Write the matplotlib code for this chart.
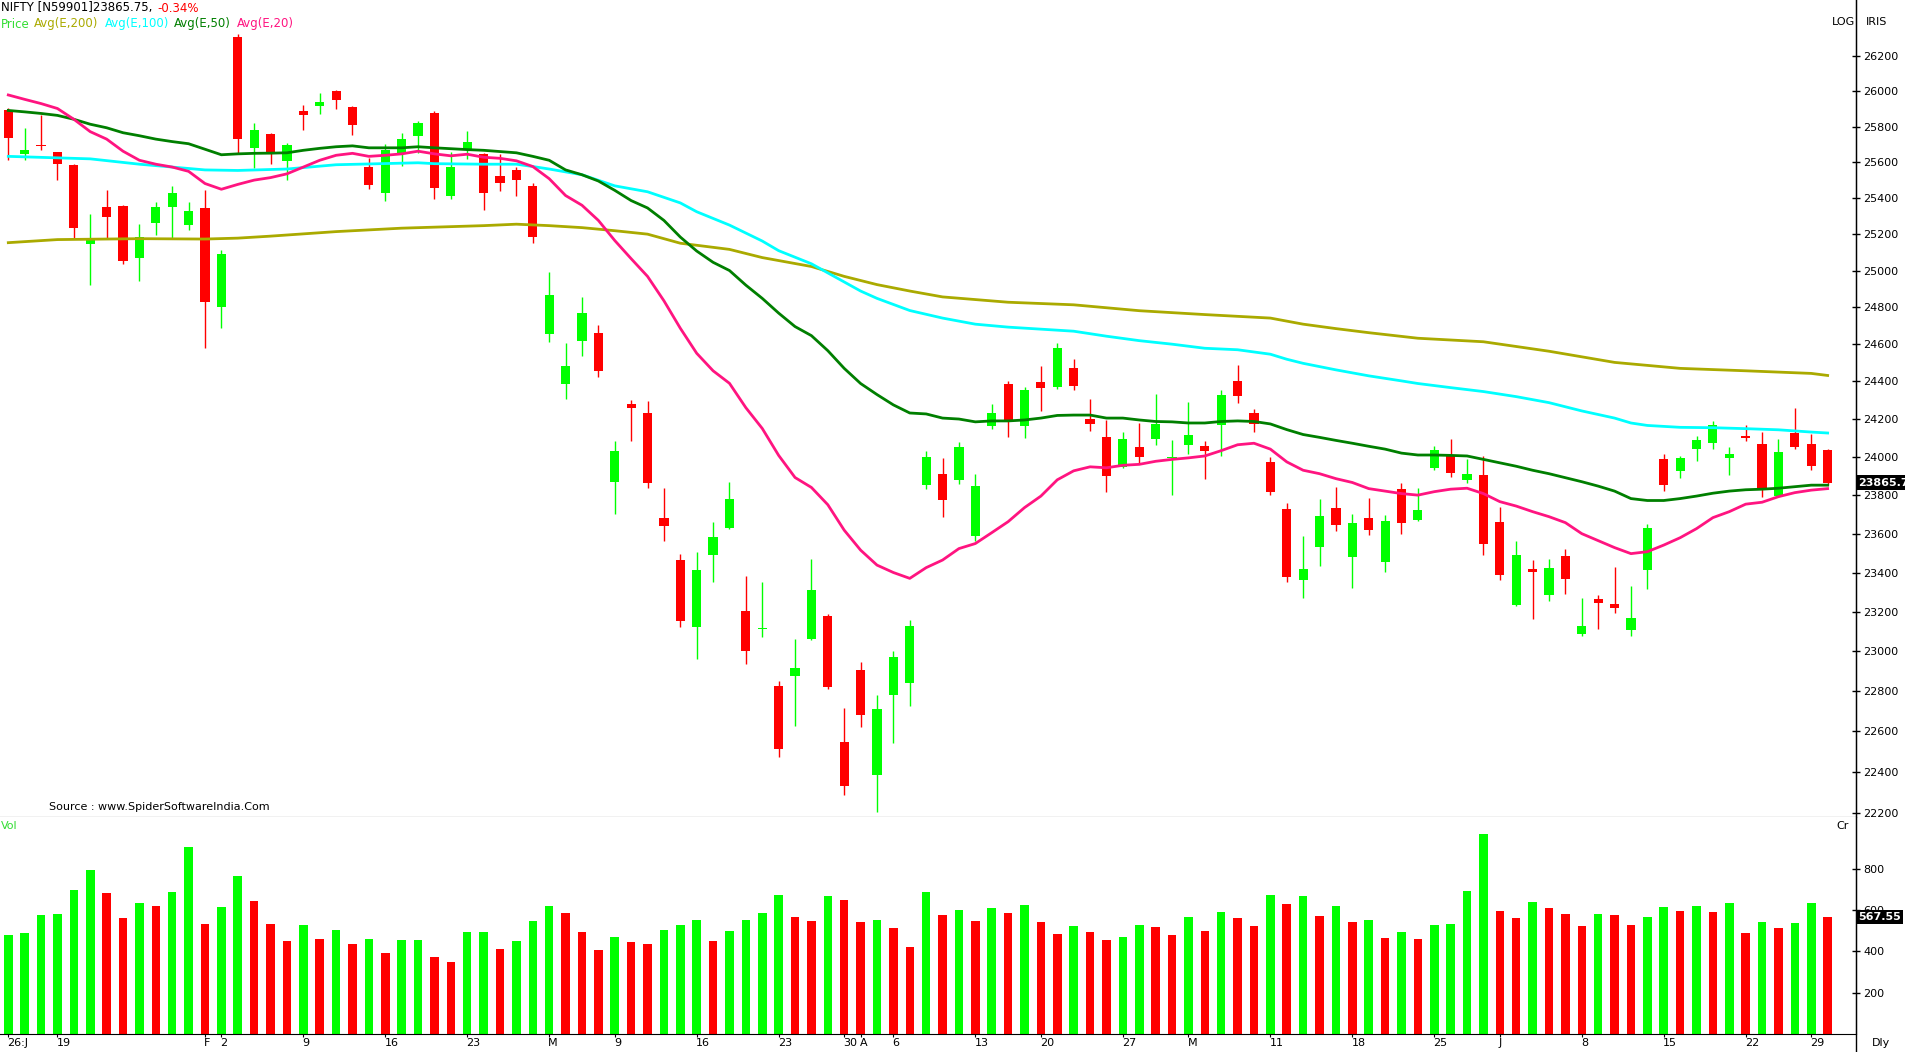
import numpy as np
import matplotlib
matplotlib.use("Agg")
import matplotlib.pyplot as plt
import matplotlib.transforms as mtransforms
from matplotlib.lines import Line2D
from matplotlib.ticker import FixedLocator, FixedFormatter, NullLocator

# ---- data ----
opens = [25897, 25648, 25699, 25656, 25586, 25146, 25350, 25356, 25068, 25264,
         25353, 25253, 25344, 24800, 26314, 25678, 25761, 25606, 25889, 25917,
         26000, 25911, 25576, 25430, 25648, 25749, 25878, 25414, 25676, 25648,
         25522, 25557, 25465, 24657, 24386, 24616, 24662, 23870, 24281, 24232,
         23681, 23464, 23121, 23492, 23628, 23205, 23110, 22828, 22875, 23064,
         23179, 22549, 22905, 22383, 22780, 22840, 23855, 23912, 23881, 23590,
         24162, 24384, 24162, 24395, 24370, 24473, 24200, 24103, 23948, 24051,
         24095, 23995, 24064, 24056, 24167, 24403, 24232, 23974, 23727, 23363,
         23533, 23732, 23482, 23681, 23456, 23831, 23673, 23940, 24010, 23881,
         23907, 23660, 23233, 23418, 23283, 23485, 23085, 23265, 23240, 23105,
         23413, 23990, 23927, 24044, 24074, 23995, 24108, 24069, 23797, 24128,
         24067, 24036]
highs = [25905, 25794, 25869, 25660, 25592, 25311, 25443, 25364, 25256, 25378,
         25465, 25378, 25446, 25115, 26330, 25822, 25766, 25710, 25922, 25989,
         26011, 25917, 25625, 25704, 25766, 25833, 25889, 25659, 25777, 25653,
         25648, 25576, 25484, 24992, 24608, 24856, 24705, 24082, 24303, 24297,
         23836, 23495, 23505, 23660, 23868, 23383, 23353, 22853, 23062, 23469,
         23187, 22718, 22945, 22783, 23000, 23159, 24031, 23995, 24077, 23912,
         24281, 24400, 24373, 24484, 24608, 24522, 24308, 24195, 24133, 24179,
         24335, 24087, 24292, 24082, 24357, 24489, 24254, 24000, 23758, 23587,
         23779, 23842, 23701, 23784, 23696, 23862, 23836, 24056, 24092, 23990,
         24005, 23738, 23561, 23464, 23469, 23520, 23270, 23285, 23428, 23330,
         23649, 24015, 24005, 24108, 24187, 24051, 24169, 24133, 24092, 24256,
         24123, 24041]
lows = [25611, 25611, 25668, 25500, 25177, 24923, 25177, 25034, 24941, 25197,
        25177, 25225, 24578, 24686, 25651, 25570, 25589, 25500, 25783, 25872,
        25900, 25755, 25451, 25386, 25578, 25653, 25397, 25392, 25617, 25336,
        25441, 25414, 25152, 24611, 24305, 24535, 24422, 23701, 24082, 23839,
        23564, 23121, 22963, 23353, 23623, 22938, 23074, 22473, 22625, 23059,
        22810, 22287, 22620, 22205, 22544, 22725, 23834, 23688, 23860, 23564,
        24146, 24105, 24100, 24241, 24359, 24354, 24136, 23818, 23943, 23964,
        24064, 23803, 24013, 23886, 24003, 24284, 24130, 23803, 23353, 23268,
        23431, 23616, 23323, 23595, 23405, 23600, 23668, 23930, 23894, 23865,
        23492, 23360, 23228, 23162, 23253, 23288, 23079, 23110, 23192, 23079,
        23318, 23823, 23891, 23977, 24044, 23907, 24082, 23792, 23792, 24041,
        23930, 23855]
closes = [25735, 25670, 25693, 25589, 25236, 25172, 25297, 25051, 25183, 25350,
          25427, 25328, 24827, 25093, 25730, 25783, 25656, 25699, 25867, 25939,
          25950, 25808, 25473, 25670, 25732, 25822, 25457, 25576, 25715, 25430,
          25486, 25503, 25186, 24867, 24484, 24770, 24454, 24031, 24257, 23865,
          23642, 23151, 23413, 23582, 23779, 23003, 23118, 22512, 22915, 23310,
          22820, 22330, 22680, 22713, 22970, 23128, 24000, 23777, 24052, 23847,
          24232, 24195, 24357, 24365, 24581, 24376, 24172, 23899, 24092, 23997,
          24174, 24000, 24118, 24033, 24330, 24322, 24172, 23818, 23378, 23418,
          23691, 23647, 23655, 23621, 23665, 23657, 23722, 24036, 23914, 23912,
          23549, 23385, 23490, 23405, 23423, 23368, 23128, 23243, 23218, 23169,
          23628, 23855, 23995, 24087, 24167, 24015, 24100, 23834, 24026, 24051,
          23951, 23865.75]
volumes = [478, 488, 575, 580, 697, 794, 682, 562, 633, 619,
           687, 906, 531, 614, 765, 643, 531, 449, 527, 458,
           502, 434, 458, 390, 454, 456, 371, 347, 492, 494,
           410, 449, 546, 619, 585, 492, 405, 468, 444, 434,
           502, 527, 551, 449, 497, 551, 585, 672, 565, 546,
           667, 650, 541, 551, 512, 420, 687, 574, 602, 548,
           610, 586, 625, 543, 485, 524, 495, 456, 471, 528,
           519, 480, 567, 499, 591, 562, 524, 673, 630, 668,
           572, 620, 543, 552, 466, 495, 461, 528, 533, 692,
           967, 596, 562, 639, 610, 581, 524, 581, 577, 528,
           567, 615, 596, 620, 591, 634, 490, 543, 514, 538,
           634, 567.55]

ema20_idx = list(range(0, 112))
ema20 = [25980, 25955, 25931, 25903, 25842, 25772, 25730, 25662, 25611, 25589,
         25573, 25549, 25481, 25449, 25476, 25500, 25514, 25535, 25573, 25611,
         25639, 25650, 25633, 25639, 25647, 25662, 25647, 25636, 25645, 25628,
         25622, 25608, 25576, 25508, 25414, 25360, 25276, 25165, 25065, 24968,
         24835, 24686, 24551, 24457, 24390, 24260, 24150, 24008, 23892, 23840,
         23750, 23618, 23515, 23438, 23400, 23370, 23425, 23464, 23523, 23549,
         23605, 23662, 23735, 23795, 23880, 23927, 23948, 23943, 23956, 23961,
         23977, 23987, 23995, 24005, 24033, 24064, 24072, 24041, 23974, 23930,
         23912, 23886, 23866, 23834, 23821, 23808, 23800, 23818, 23831, 23836,
         23808, 23766, 23743, 23714, 23688, 23657, 23600, 23564, 23528, 23497,
         23507, 23541, 23579, 23626, 23683, 23714, 23753, 23763, 23792, 23813,
         23826, 23834]
ema50_idx = list(range(0, 112))
ema50 = [25892, 25884, 25875, 25864, 25842, 25814, 25794, 25766, 25749, 25730,
         25716, 25704, 25673, 25642, 25647, 25650, 25651, 25653, 25667, 25678,
         25687, 25692, 25681, 25681, 25681, 25687, 25681, 25676, 25671, 25667,
         25660, 25653, 25633, 25611, 25557, 25530, 25495, 25443, 25386, 25345,
         25276, 25184, 25107, 25045, 25000, 24920, 24848, 24768, 24695, 24646,
         24565, 24470, 24389, 24330, 24275, 24232, 24227, 24205, 24200, 24185,
         24190, 24190, 24195, 24205, 24219, 24221, 24221, 24205, 24205, 24195,
         24187, 24185, 24179, 24179, 24187, 24190, 24187, 24174, 24144, 24118,
         24103, 24087, 24072, 24056, 24041, 24020, 24010, 24010, 24008, 24005,
         23987, 23969, 23951, 23930, 23912, 23891, 23870, 23847, 23821, 23782,
         23772, 23772, 23782, 23795, 23810, 23821, 23828, 23831, 23836, 23844,
         23852, 23852]
ema100_idx = [0, 5, 8, 10, 12, 14, 17, 19, 20, 25, 26, 29, 31, 32, 33, 35, 37,
              39, 41, 42, 44, 46, 47, 49, 50, 52, 53, 55, 57, 59, 61, 63, 65,
              67, 69, 71, 73, 75, 77, 78, 79, 81, 83, 85, 86, 88, 90, 92, 94,
              96, 98, 99, 100, 102, 104, 106, 108, 110, 111]
ema100 = [25633, 25619, 25589, 25573, 25557, 25554, 25562, 25578, 25586, 25597,
          25592, 25589, 25589, 25576, 25562, 25530, 25468, 25435, 25373, 25324,
          25250, 25162, 25109, 25037, 24987, 24888, 24848, 24782, 24741, 24708,
          24692, 24681, 24670, 24643, 24619, 24600, 24578, 24570, 24546, 24519,
          24497, 24462, 24430, 24403, 24389, 24367, 24346, 24319, 24287, 24243,
          24205, 24179, 24166, 24156, 24154, 24149, 24143, 24131, 24126]
ema200_idx = [0, 3, 8, 12, 14, 16, 20, 24, 29, 31, 33, 35, 37, 39, 41, 44, 46,
              49, 51, 53, 55, 57, 61, 65, 69, 73, 77, 79, 81, 83, 86, 90, 94,
              98, 102, 106, 110, 111]
ema200 = [25153, 25170, 25175, 25173, 25178, 25189, 25214, 25233, 25247, 25255,
          25247, 25236, 25219, 25200, 25150, 25116, 25071, 25022, 24968, 24923,
          24888, 24856, 24827, 24813, 24781, 24760, 24741, 24708, 24684, 24662,
          24632, 24613, 24562, 24502, 24470, 24457, 24443, 24432]

date_idx = [0, 3, 12, 13, 18, 23, 28, 33, 37, 42, 47, 51, 52, 54, 59, 63, 68,
            72, 77, 82, 87, 91, 96, 101, 106, 110]
date_lab = ["26:J", "19", "F", "2", "9", "16", "23", "M", "9", "16", "23", "30",
            "A", "6", "13", "20", "27", "M", "11", "18", "25", "J", "8", "15",
            "22", "29"]
price_ticks = list(range(22200, 26201, 200))
vol_ticks = [200, 400, 600, 800]

GREEN = "#00FF00"
RED = "#FF0000"
C200, C100, C50, C20 = "#AAAA00", "#00FFFF", "#007F00", "#FF1480"

W, H = 1906, 1052
fig = plt.figure(figsize=(W / 100, H / 100), dpi=100)


def fy(y):
    return 1 - y / H


ax = fig.add_axes([0, fy(817), 1856 / W, 817 / H])
axv = fig.add_axes([0, fy(1034), 1856 / W, (1034 - 817) / H], sharex=ax)

o = np.array(opens, float)
h = np.array(highs, float)
l = np.array(lows, float)
c = np.array(closes, float)
x = np.arange(len(c))
cols = np.where(c >= o, GREEN, RED)

ax.set_yscale("log")
ax.vlines(x, l, h, colors=cols, lw=1.0, zorder=2)
ax.bar(x, np.maximum(np.abs(c - o), 5), bottom=np.minimum(o, c), width=0.56,
       color=cols, linewidth=0, zorder=2)

for idx, vals, col in [(ema200_idx, ema200, C200), (ema100_idx, ema100, C100),
                       (ema50_idx, ema50, C50), (ema20_idx, ema20, C20)]:
    ax.plot(idx, vals, color=col, lw=2.0, zorder=3)

ax.set_xlim(-0.506, 112.73)
ax.set_ylim(22180, 26526)
ax.yaxis.tick_right()
ax.yaxis.set_major_locator(FixedLocator(price_ticks))
ax.yaxis.set_major_formatter(FixedFormatter([str(t) for t in price_ticks]))
ax.yaxis.set_minor_locator(NullLocator())
ax.tick_params(axis="y", direction="inout", length=6, width=1, labelsize=8, pad=2)
ax.tick_params(axis="x", bottom=False, labelbottom=False)
for s in ["left", "top"]:
    ax.spines[s].set_visible(False)

v = np.array(volumes, float)
vcols = [GREEN] + [GREEN if v[i] >= v[i - 1] else RED for i in range(1, len(v))]
axv.bar(x, v, width=0.52, color=vcols, linewidth=0)
axv.set_ylim(0, 1050)
axv.yaxis.tick_right()
axv.set_yticks(vol_ticks)
axv.set_yticklabels([str(t) for t in vol_ticks])
axv.tick_params(axis="y", direction="inout", length=6, width=1, labelsize=8, pad=2)
axv.set_xticks(date_idx)
axv.tick_params(axis="x", direction="out", length=2, labelbottom=False)
for s in ["left", "top"]:
    axv.spines[s].set_visible(False)

fig.add_artist(Line2D([1856 / W, 1856 / W], [0, 1], color="black", lw=1,
                      transform=fig.transFigure))

tx = mtransforms.blended_transform_factory(axv.transData, fig.transFigure)
for i, lab in zip(date_idx, date_lab):
    axv.text(i - 0.05, fy(1043), lab, transform=tx, ha="left", va="center",
             fontsize=8, clip_on=False)

# last value boxes
bp = mtransforms.blended_transform_factory(fig.transFigure, ax.transData)
ax.text(1858 / W, closes[-1], "23865.7", transform=bp, ha="left", va="center",
        color="white", fontsize=8, fontweight="bold", clip_on=False, zorder=5,
        bbox=dict(facecolor="black", edgecolor="none", pad=1.5))
bv = mtransforms.blended_transform_factory(fig.transFigure, axv.transData)
axv.text(1858 / W, volumes[-1], "567.55", transform=bv, ha="left", va="center",
         color="white", fontsize=8, fontweight="bold", clip_on=False, zorder=5,
         bbox=dict(facecolor="black", edgecolor="none", pad=1.5))

# header
fig.text(1 / W, fy(8), "NIFTY [N59901]23865.75,", fontsize=8.5, va="center")
fig.text(157 / W, fy(8), "-0.34%", fontsize=8.5, va="center", color=RED)
for xp, txt, col in [(0, "Price", "#33DD33"), (33, "Avg(E,200)", C200),
                     (104, "Avg(E,100)", C100), (173, "Avg(E,50)", C50),
                     (236, "Avg(E,20)", C20)]:
    fig.text((xp + 1) / W, fy(24), txt, fontsize=8.5, va="center", color=col)
fig.text(1832 / W, fy(22), "LOG", fontsize=8, va="center")
fig.text(1866 / W, fy(22), "IRIS", fontsize=8, va="center")
fig.text(49 / W, fy(807), "Source : www.SpiderSoftwareIndia.Com", fontsize=8,
         va="center")
fig.text(1 / W, fy(826), "Vol", fontsize=8, va="center", color="#33DD33")
fig.text(1836 / W, fy(826), "Cr", fontsize=8, va="center")
fig.text(1872 / W, fy(1043), "Dly", fontsize=8, va="center")

fig.savefig("out.png", dpi=100, facecolor="white")
